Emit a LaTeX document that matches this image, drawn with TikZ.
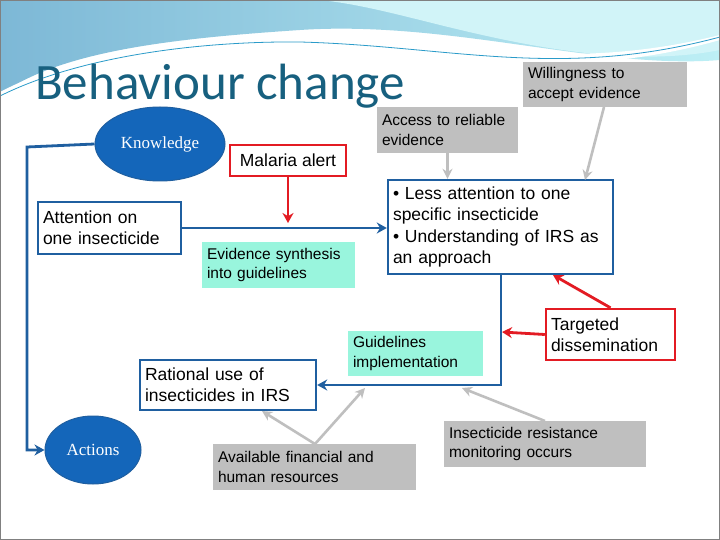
\documentclass[tikz,border=0pt]{standalone}
\usepackage{fontspec}
\setmainfont{Liberation Sans}
\newfontfamily\titlefont{Carlito}
\newfontfamily\ellfont{Liberation Serif}
\usetikzlibrary{arrows.meta,positioning,shapes.geometric}
\definecolor{bblue}{HTML}{1F5FA0}
\definecolor{eblue}{HTML}{1466BA}
\definecolor{rred}{HTML}{E31B23}
\definecolor{gbox}{HTML}{BFBFBF}
\definecolor{aqua}{HTML}{99F5DD}
\definecolor{ttl}{HTML}{17607F}
\definecolor{wa}{HTML}{7DB8D6}
\definecolor{wb}{HTML}{BDEFF5}
\tikzset{
  bx/.style={draw=bblue,line width=2.4pt,fill=white,align=left,inner sep=5pt,font=\fontsize{17.5}{21}\selectfont},
  rbx/.style={draw=rred,line width=2.4pt,fill=white,align=left,inner sep=5pt,font=\fontsize{17.5}{21}\selectfont},
  gb/.style={fill=gbox,align=left,inner sep=5pt,font=\fontsize{15.5}{19.5}\selectfont},
  ab/.style={fill=aqua,align=left,inner sep=5pt,font=\fontsize{15.5}{19.5}\selectfont},
  ell/.style={ellipse,fill=eblue,draw=bblue,line width=1pt,text=white,font=\ellfont\fontsize{17}{20}\selectfont},
  barr/.style={draw=bblue,line width=2.8pt,-{Stealth[length=10pt,width=11pt]}},
  rarr/.style={draw=rred,line width=2.8pt,-{Stealth[length=10pt,width=11pt]}},
  garr/.style={draw=gbox,line width=2.6pt,-{Stealth[length=10pt,width=10pt]}},
}
\begin{document}
\begin{tikzpicture}[x=1pt,y=-1pt]
\useasboundingbox (0,0) rectangle (720,540);
\fill[white] (0,0) rectangle (720,540);
% top waves
\shade[left color=wa,right color=wb] (0,0) -- (720,0) -- (720,60) .. controls (600,70) and (450,20) .. (300,30) .. controls (180,38) and (60,50) .. (0,95) -- cycle;
\fill[wb!70!white] (320,0) -- (720,0) -- (720,50) .. controls (620,70) and (500,40) .. (420,20) .. controls (380,10) and (350,3) .. (320,0) -- cycle;
\fill[white] (0,92) .. controls (80,50) and (200,35) .. (300,36) .. controls (450,40) and (560,75) .. (720,35) -- (720,40) .. controls (560,85) and (450,52) .. (300,44) .. controls (200,42) and (80,62) .. (0,102) -- cycle;
\draw[cyan!60!teal,line width=0.8pt] (0,96) .. controls (80,56) and (200,41) .. (300,42) .. controls (450,46) and (560,80) .. (720,37);
\draw[gray,line width=1pt] (0.5,0.5) rectangle (719.5,539.5);
\node[anchor=west,text=ttl,font=\titlefont\fontsize{51}{55}\selectfont,inner sep=0pt] (title) at (35,86) {Behaviour change};
% nodes
\node[ell,minimum width=130pt,minimum height=74pt] (know) at (160,144) {Knowledge};
\node[ell,minimum width=96pt,minimum height=68pt] (act) at (93,450) {Actions};
\node[rbx,minimum width=116pt,minimum height=31pt] (mal) at (288,160.5) {Malaria alert};
\node[bx,text width=133pt,minimum height=52pt] (att) at (109.5,228) {Attention on\\one insecticide};
\node[ab,text width=143pt,minimum height=46pt] (evi) at (278.5,265) {Evidence synthesis\\into guidelines};
\node[gb,text width=131pt,minimum height=46pt] (acc) at (447.5,130) {Access to reliable\\evidence};
\node[gb,text width=154pt,minimum height=45pt] (wil) at (605,84.5) {Willingness to\\accept evidence};
\node[bx,text width=215pt,minimum height=94pt,font=\fontsize{17.5}{21.5}\selectfont] (less) at (500.5,227) {\textbullet{} Less attention to one\\specific insecticide\\\textbullet{} Understanding of IRS as\\an approach};
\node[rbx,text width=119pt,minimum height=51pt] (tar) at (610.5,334.5) {Targeted\\dissemination};
\node[ab,text width=125pt,minimum height=45pt] (gui) at (415.5,353.5) {Guidelines\\implementation};
\node[bx,text width=166pt,minimum height=50pt] (rat) at (228,385) {Rational use of\\insecticides in IRS};
\node[gb,text width=193pt,minimum height=46pt] (ava) at (314.5,467) {Available financial and\\human resources};
\node[gb,text width=192pt,minimum height=46pt] (res) at (545,444) {Insecticide resistance\\monitoring occurs};
% connectors
\coordinate (kl) at (27,147);
\draw[barr] (know.west) -- (kl) |- (act.west);
\draw[barr] (att.east) -- (less.west |- att.east);
\coordinate (malend) at (288,223);
\draw[rarr] (mal.south) -- (malend);
\coordinate (vb) at (501,385);
\draw[barr] (less.south -| vb) -- (vb) -- (rat.east |- vb);
\coordinate (tarend) at (502,332);
\draw[rarr] (tar.west) -- (tarend);
\coordinate (lesstr) at (553,275);
\draw[rarr] (tar.north) -- (lesstr);
\draw[garr] (acc.south) -- (acc.south |- less.north);
\draw[garr] (604,107) -- (585,180);
\coordinate (avt) at (315,444);
\draw[garr] (avt) -- (262,411);
\draw[garr] (avt) -- (365,388);
\draw[garr] (545,421) -- (462,388);
\end{tikzpicture}
\end{document}
